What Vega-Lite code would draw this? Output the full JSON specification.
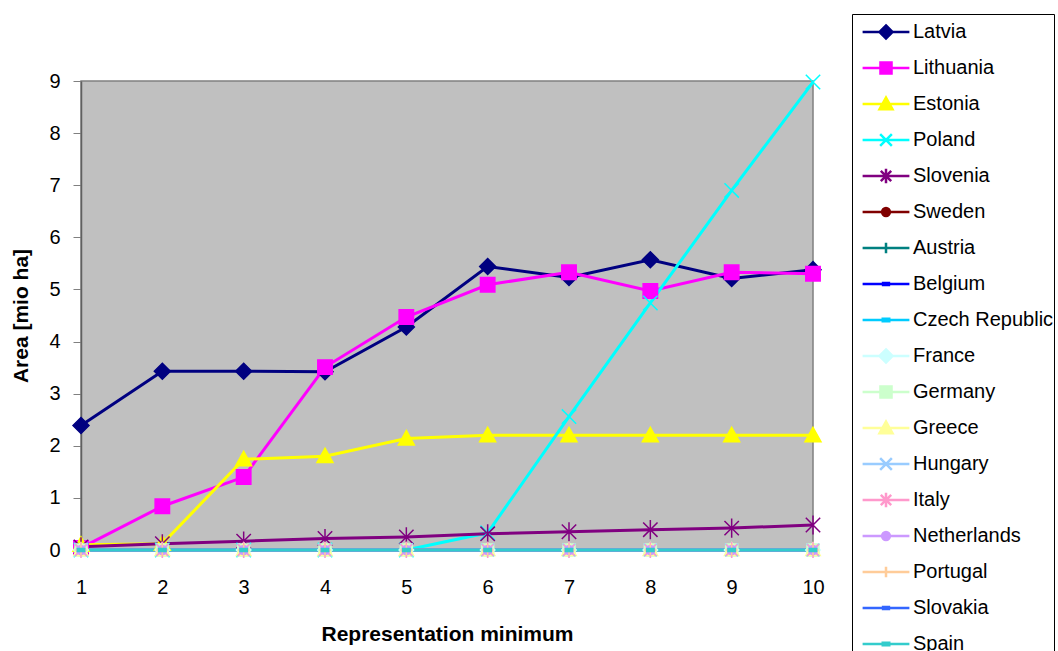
{
  "$schema": "https://vega.github.io/schema/vega-lite/v6.json",
  "width": 732,
  "height": 469,
  "autosize": {"type": "none"},
  "padding": {"left": 81, "top": 81, "right": 245, "bottom": 101},
  "background": "white",
  "config": {
    "font": "Liberation Sans",
    "view": {"fill": "#C0C0C0", "stroke": "#808080", "strokeWidth": 1.5},
    "axis": {"grid": false, "labelColor": "black", "titleColor": "black", "labelFont": "Liberation Sans", "titleFont": "Liberation Sans"},
    "legend": {
      "orient": "none",
      "legendX": 771,
      "legendY": -67,
      "padding": 0,
      "strokeColor": "black",
      "fillColor": "white",
      "clipHeight": 36,
      "rowPadding": 0,
      "symbolOffset": 24,
      "labelOffset": 17,
      "labelFontSize": 20,
      "labelFont": "Liberation Sans",
      "labelColor": "black",
      "labelLimit": 400,
      "symbolSize": 169,
      "symbolStrokeWidth": 2.5,
      "symbolOpacity": 1,
      "title": null
    }
  },
  "data": {
    "values": [
      {"country": "Latvia", "x": 1, "area": 2.39}, {"country": "Latvia", "x": 2, "area": 3.43}, {"country": "Latvia", "x": 3, "area": 3.43}, {"country": "Latvia", "x": 4, "area": 3.42}, {"country": "Latvia", "x": 5, "area": 4.28}, {"country": "Latvia", "x": 6, "area": 5.44}, {"country": "Latvia", "x": 7, "area": 5.23}, {"country": "Latvia", "x": 8, "area": 5.57}, {"country": "Latvia", "x": 9, "area": 5.21}, {"country": "Latvia", "x": 10, "area": 5.38},
      {"country": "Lithuania", "x": 1, "area": 0.04}, {"country": "Lithuania", "x": 2, "area": 0.84}, {"country": "Lithuania", "x": 3, "area": 1.4}, {"country": "Lithuania", "x": 4, "area": 3.51}, {"country": "Lithuania", "x": 5, "area": 4.47}, {"country": "Lithuania", "x": 6, "area": 5.09}, {"country": "Lithuania", "x": 7, "area": 5.33}, {"country": "Lithuania", "x": 8, "area": 4.97}, {"country": "Lithuania", "x": 9, "area": 5.33}, {"country": "Lithuania", "x": 10, "area": 5.3},
      {"country": "Estonia", "x": 1, "area": 0.1}, {"country": "Estonia", "x": 2, "area": 0.12}, {"country": "Estonia", "x": 3, "area": 1.74}, {"country": "Estonia", "x": 4, "area": 1.8}, {"country": "Estonia", "x": 5, "area": 2.14}, {"country": "Estonia", "x": 6, "area": 2.2}, {"country": "Estonia", "x": 7, "area": 2.2}, {"country": "Estonia", "x": 8, "area": 2.2}, {"country": "Estonia", "x": 9, "area": 2.2}, {"country": "Estonia", "x": 10, "area": 2.2},
      {"country": "Poland", "x": 1, "area": 0}, {"country": "Poland", "x": 2, "area": 0}, {"country": "Poland", "x": 3, "area": 0}, {"country": "Poland", "x": 4, "area": 0}, {"country": "Poland", "x": 5, "area": 0}, {"country": "Poland", "x": 6, "area": 0.33}, {"country": "Poland", "x": 7, "area": 2.56}, {"country": "Poland", "x": 8, "area": 4.74}, {"country": "Poland", "x": 9, "area": 6.9}, {"country": "Poland", "x": 10, "area": 8.98},
      {"country": "Slovenia", "x": 1, "area": 0.06}, {"country": "Slovenia", "x": 2, "area": 0.12}, {"country": "Slovenia", "x": 3, "area": 0.17}, {"country": "Slovenia", "x": 4, "area": 0.22}, {"country": "Slovenia", "x": 5, "area": 0.25}, {"country": "Slovenia", "x": 6, "area": 0.31}, {"country": "Slovenia", "x": 7, "area": 0.35}, {"country": "Slovenia", "x": 8, "area": 0.39}, {"country": "Slovenia", "x": 9, "area": 0.42}, {"country": "Slovenia", "x": 10, "area": 0.48},
      {"country": "Sweden", "x": 1, "area": 0}, {"country": "Sweden", "x": 2, "area": 0}, {"country": "Sweden", "x": 3, "area": 0}, {"country": "Sweden", "x": 4, "area": 0}, {"country": "Sweden", "x": 5, "area": 0}, {"country": "Sweden", "x": 6, "area": 0}, {"country": "Sweden", "x": 7, "area": 0}, {"country": "Sweden", "x": 8, "area": 0}, {"country": "Sweden", "x": 9, "area": 0}, {"country": "Sweden", "x": 10, "area": 0},
      {"country": "Austria", "x": 1, "area": 0}, {"country": "Austria", "x": 2, "area": 0}, {"country": "Austria", "x": 3, "area": 0}, {"country": "Austria", "x": 4, "area": 0}, {"country": "Austria", "x": 5, "area": 0}, {"country": "Austria", "x": 6, "area": 0}, {"country": "Austria", "x": 7, "area": 0}, {"country": "Austria", "x": 8, "area": 0}, {"country": "Austria", "x": 9, "area": 0}, {"country": "Austria", "x": 10, "area": 0},
      {"country": "Belgium", "x": 1, "area": 0}, {"country": "Belgium", "x": 2, "area": 0}, {"country": "Belgium", "x": 3, "area": 0}, {"country": "Belgium", "x": 4, "area": 0}, {"country": "Belgium", "x": 5, "area": 0}, {"country": "Belgium", "x": 6, "area": 0}, {"country": "Belgium", "x": 7, "area": 0}, {"country": "Belgium", "x": 8, "area": 0}, {"country": "Belgium", "x": 9, "area": 0}, {"country": "Belgium", "x": 10, "area": 0},
      {"country": "Czech Republic", "x": 1, "area": 0}, {"country": "Czech Republic", "x": 2, "area": 0}, {"country": "Czech Republic", "x": 3, "area": 0}, {"country": "Czech Republic", "x": 4, "area": 0}, {"country": "Czech Republic", "x": 5, "area": 0}, {"country": "Czech Republic", "x": 6, "area": 0}, {"country": "Czech Republic", "x": 7, "area": 0}, {"country": "Czech Republic", "x": 8, "area": 0}, {"country": "Czech Republic", "x": 9, "area": 0}, {"country": "Czech Republic", "x": 10, "area": 0},
      {"country": "France", "x": 1, "area": 0}, {"country": "France", "x": 2, "area": 0}, {"country": "France", "x": 3, "area": 0}, {"country": "France", "x": 4, "area": 0}, {"country": "France", "x": 5, "area": 0}, {"country": "France", "x": 6, "area": 0}, {"country": "France", "x": 7, "area": 0}, {"country": "France", "x": 8, "area": 0}, {"country": "France", "x": 9, "area": 0}, {"country": "France", "x": 10, "area": 0},
      {"country": "Germany", "x": 1, "area": 0}, {"country": "Germany", "x": 2, "area": 0}, {"country": "Germany", "x": 3, "area": 0}, {"country": "Germany", "x": 4, "area": 0}, {"country": "Germany", "x": 5, "area": 0}, {"country": "Germany", "x": 6, "area": 0}, {"country": "Germany", "x": 7, "area": 0}, {"country": "Germany", "x": 8, "area": 0}, {"country": "Germany", "x": 9, "area": 0}, {"country": "Germany", "x": 10, "area": 0},
      {"country": "Greece", "x": 1, "area": 0}, {"country": "Greece", "x": 2, "area": 0}, {"country": "Greece", "x": 3, "area": 0}, {"country": "Greece", "x": 4, "area": 0}, {"country": "Greece", "x": 5, "area": 0}, {"country": "Greece", "x": 6, "area": 0}, {"country": "Greece", "x": 7, "area": 0}, {"country": "Greece", "x": 8, "area": 0}, {"country": "Greece", "x": 9, "area": 0}, {"country": "Greece", "x": 10, "area": 0},
      {"country": "Hungary", "x": 1, "area": 0}, {"country": "Hungary", "x": 2, "area": 0}, {"country": "Hungary", "x": 3, "area": 0}, {"country": "Hungary", "x": 4, "area": 0}, {"country": "Hungary", "x": 5, "area": 0}, {"country": "Hungary", "x": 6, "area": 0}, {"country": "Hungary", "x": 7, "area": 0}, {"country": "Hungary", "x": 8, "area": 0}, {"country": "Hungary", "x": 9, "area": 0}, {"country": "Hungary", "x": 10, "area": 0},
      {"country": "Italy", "x": 1, "area": 0}, {"country": "Italy", "x": 2, "area": 0}, {"country": "Italy", "x": 3, "area": 0}, {"country": "Italy", "x": 4, "area": 0}, {"country": "Italy", "x": 5, "area": 0}, {"country": "Italy", "x": 6, "area": 0}, {"country": "Italy", "x": 7, "area": 0}, {"country": "Italy", "x": 8, "area": 0}, {"country": "Italy", "x": 9, "area": 0}, {"country": "Italy", "x": 10, "area": 0},
      {"country": "Netherlands", "x": 1, "area": 0}, {"country": "Netherlands", "x": 2, "area": 0}, {"country": "Netherlands", "x": 3, "area": 0}, {"country": "Netherlands", "x": 4, "area": 0}, {"country": "Netherlands", "x": 5, "area": 0}, {"country": "Netherlands", "x": 6, "area": 0}, {"country": "Netherlands", "x": 7, "area": 0}, {"country": "Netherlands", "x": 8, "area": 0}, {"country": "Netherlands", "x": 9, "area": 0}, {"country": "Netherlands", "x": 10, "area": 0},
      {"country": "Portugal", "x": 1, "area": 0}, {"country": "Portugal", "x": 2, "area": 0}, {"country": "Portugal", "x": 3, "area": 0}, {"country": "Portugal", "x": 4, "area": 0}, {"country": "Portugal", "x": 5, "area": 0}, {"country": "Portugal", "x": 6, "area": 0}, {"country": "Portugal", "x": 7, "area": 0}, {"country": "Portugal", "x": 8, "area": 0}, {"country": "Portugal", "x": 9, "area": 0}, {"country": "Portugal", "x": 10, "area": 0},
      {"country": "Slovakia", "x": 1, "area": 0}, {"country": "Slovakia", "x": 2, "area": 0}, {"country": "Slovakia", "x": 3, "area": 0}, {"country": "Slovakia", "x": 4, "area": 0}, {"country": "Slovakia", "x": 5, "area": 0}, {"country": "Slovakia", "x": 6, "area": 0}, {"country": "Slovakia", "x": 7, "area": 0}, {"country": "Slovakia", "x": 8, "area": 0}, {"country": "Slovakia", "x": 9, "area": 0}, {"country": "Slovakia", "x": 10, "area": 0},
      {"country": "Spain", "x": 1, "area": 0}, {"country": "Spain", "x": 2, "area": 0}, {"country": "Spain", "x": 3, "area": 0}, {"country": "Spain", "x": 4, "area": 0}, {"country": "Spain", "x": 5, "area": 0}, {"country": "Spain", "x": 6, "area": 0}, {"country": "Spain", "x": 7, "area": 0}, {"country": "Spain", "x": 8, "area": 0}, {"country": "Spain", "x": 9, "area": 0}, {"country": "Spain", "x": 10, "area": 0}
    ]
  },
  "encoding": {
    "x": {
      "field": "x", "type": "quantitative",
      "scale": {"domain": [1, 10], "nice": false, "zero": false},
      "axis": {"title": "Representation minimum", "values": [1, 2, 3, 4, 5, 6, 7, 8, 9, 10], "format": "d", "labelFontSize": 20, "labelPadding": 22, "tickSize": 5, "tickColor": "#404040", "domainColor": "#808080", "titleFontSize": 21, "titleFontWeight": "bold", "titlePadding": 26, "labelFlush": false}
    },
    "y": {
      "field": "area", "type": "quantitative",
      "scale": {"domain": [0, 9], "nice": false},
      "axis": {"title": "Area [mio ha]", "values": [0, 1, 2, 3, 4, 5, 6, 7, 8, 9], "labelFontSize": 20, "labelPadding": 13, "tickSize": 8, "tickColor": "#808080", "domainColor": "#606060", "domainWidth": 1.5, "titleFontSize": 21, "titleFontWeight": "bold", "titlePadding": 17, "labelFlush": false}
    }
  },
  "layer": [
    {
      "mark": {"type": "line"},
      "encoding": {
        "color": {
          "field": "country", "type": "nominal", "legend": null,
          "scale": {
            "domain": ["Latvia", "Lithuania", "Estonia", "Poland", "Slovenia", "Sweden", "Austria", "Belgium", "Czech Republic", "France", "Germany", "Greece", "Hungary", "Italy", "Netherlands", "Portugal", "Slovakia", "Spain"],
            "range": ["#000080", "#FF00FF", "#FFFF00", "#00FFFF", "#800080", "#800000", "#008080", "#0000FF", "#00CCFF", "#CCFFFF", "#CCFFCC", "#FFFF99", "#99CCFF", "#FF99CC", "#CC99FF", "#FFCC99", "#3366FF", "#33CCCC"]
          }
        },
        "strokeWidth": {
          "field": "country", "type": "ordinal", "legend": null,
          "scale": {
            "domain": ["Latvia", "Lithuania", "Estonia", "Poland", "Slovenia", "Sweden", "Austria", "Belgium", "Czech Republic", "France", "Germany", "Greece", "Hungary", "Italy", "Netherlands", "Portugal", "Slovakia", "Spain"],
            "range": [3, 3, 3, 3, 3, 2, 2, 2, 2, 2, 2, 2, 2, 2, 2, 2, 2, 2]
          }
        }
      }
    },
    {
      "mark": {"type": "point", "size": 256, "strokeWidth": 1.5, "opacity": 1},
      "encoding": {
        "fill": {
          "field": "country", "type": "nominal", "legend": null,
          "scale": {
            "domain": ["Latvia", "Lithuania", "Estonia", "Poland", "Slovenia", "Sweden", "Austria", "Belgium", "Czech Republic", "France", "Germany", "Greece", "Hungary", "Italy", "Netherlands", "Portugal", "Slovakia", "Spain"],
            "range": ["#000080", "#FF00FF", "#FFFF00", "#00FFFF", "#800080", "#800000", "#008080", "#0000FF", "#00CCFF", "#CCFFFF", "#CCFFCC", "#FFFF99", "#99CCFF", "#FF99CC", "#CC99FF", "#FFCC99", "#3366FF", "#33CCCC"]
          }
        },
        "stroke": {
          "field": "country", "type": "nominal", "legend": null,
          "scale": {
            "domain": ["Latvia", "Lithuania", "Estonia", "Poland", "Slovenia", "Sweden", "Austria", "Belgium", "Czech Republic", "France", "Germany", "Greece", "Hungary", "Italy", "Netherlands", "Portugal", "Slovakia", "Spain"],
            "range": ["#000080", "#FF00FF", "#FFFF00", "#00FFFF", "#800080", "#800000", "#008080", "#0000FF", "#00CCFF", "#CCFFFF", "#CCFFCC", "#FFFF99", "#99CCFF", "#FF99CC", "#CC99FF", "#FFCC99", "#3366FF", "#33CCCC"]
          }
        },
        "shape": {
          "field": "country", "type": "nominal", "legend": null,
          "scale": {
            "domain": ["Latvia", "Lithuania", "Estonia", "Poland", "Slovenia", "Sweden", "Austria", "Belgium", "Czech Republic", "France", "Germany", "Greece", "Hungary", "Italy", "Netherlands", "Portugal", "Slovakia", "Spain"],
            "range": [
              "M0,-1L1,0L0,1L-1,0Z",
              "M-0.9,-0.9H0.9V0.9H-0.9Z",
              "M0,-1L1,0.8H-1Z",
              "M-0.9,-0.9L0.9,0.9M0.9,-0.9L-0.9,0.9",
              "M-0.9,-0.9L0.9,0.9M0.9,-0.9L-0.9,0.9M0,-1.2V1.2",
              "M-0.45,0A0.45,0.45 0 1,0 0.45,0A0.45,0.45 0 1,0 -0.45,0Z",
              "M-0.7,0H0.7M0,-0.7V0.7",
              "M-0.4,-0.12H0.4V0.12H-0.4Z",
              "M-0.45,-0.18H0.45V0.18H-0.45Z",
              "M0,-0.9L0.9,0L0,0.9L-0.9,0Z",
              "M-0.75,-0.75H0.75V0.75H-0.75Z",
              "M0,-0.9L0.9,0.7H-0.9Z",
              "M-0.8,-0.8L0.8,0.8M0.8,-0.8L-0.8,0.8",
              "M-0.7,-0.7L0.7,0.7M0.7,-0.7L-0.7,0.7M0,-1V1",
              "M-0.55,0A0.55,0.55 0 1,0 0.55,0A0.55,0.55 0 1,0 -0.55,0Z",
              "M-0.7,0H0.7M0,-0.7V0.7",
              "M-0.4,-0.12H0.4V0.12H-0.4Z",
              "M-0.45,-0.18H0.45V0.18H-0.45Z"
            ]
          }
        }
      }
    },
    {
      "mark": {"type": "point", "size": 169, "strokeWidth": 2.5, "opacity": 0},
      "encoding": {
        "fill": {
          "field": "country", "type": "nominal", "legend": {},
          "scale": {
            "domain": ["Latvia", "Lithuania", "Estonia", "Poland", "Slovenia", "Sweden", "Austria", "Belgium", "Czech Republic", "France", "Germany", "Greece", "Hungary", "Italy", "Netherlands", "Portugal", "Slovakia", "Spain"],
            "range": ["#000080", "#FF00FF", "#FFFF00", "#00FFFF", "#800080", "#800000", "#008080", "#0000FF", "#00CCFF", "#CCFFFF", "#CCFFCC", "#FFFF99", "#99CCFF", "#FF99CC", "#CC99FF", "#FFCC99", "#3366FF", "#33CCCC"]
          }
        },
        "stroke": {
          "field": "country", "type": "nominal", "legend": {},
          "scale": {
            "domain": ["Latvia", "Lithuania", "Estonia", "Poland", "Slovenia", "Sweden", "Austria", "Belgium", "Czech Republic", "France", "Germany", "Greece", "Hungary", "Italy", "Netherlands", "Portugal", "Slovakia", "Spain"],
            "range": ["#000080", "#FF00FF", "#FFFF00", "#00FFFF", "#800080", "#800000", "#008080", "#0000FF", "#00CCFF", "#CCFFFF", "#CCFFCC", "#FFFF99", "#99CCFF", "#FF99CC", "#CC99FF", "#FFCC99", "#3366FF", "#33CCCC"]
          }
        },
        "shape": {
          "field": "country", "type": "nominal", "legend": {},
          "scale": {
            "domain": ["Latvia", "Lithuania", "Estonia", "Poland", "Slovenia", "Sweden", "Austria", "Belgium", "Czech Republic", "France", "Germany", "Greece", "Hungary", "Italy", "Netherlands", "Portugal", "Slovakia", "Spain"],
            "range": [
              "M-3.6,0H3.6M0,-1L1,0L0,1L-1,0Z",
              "M-3.6,0H3.6M-0.85,-0.85H0.85V0.85H-0.85Z",
              "M-3.6,0H3.6M0,-1L1,0.8H-1Z",
              "M-3.6,0H3.6M-0.9,-0.9L0.9,0.9M0.9,-0.9L-0.9,0.9",
              "M-3.6,0H3.6M-0.8,-0.8L0.8,0.8M0.8,-0.8L-0.8,0.8M0,-1.1V1.1",
              "M-3.6,0H3.6M-0.6,0A0.6,0.6 0 1,0 0.6,0A0.6,0.6 0 1,0 -0.6,0Z",
              "M-3.6,0H3.6M0,-0.8V0.8",
              "M-3.6,0H3.6M-0.45,-0.15H0.45V0.15H-0.45Z",
              "M-3.6,0H3.6M-0.5,-0.2H0.5V0.2H-0.5Z",
              "M-3.6,0H3.6M0,-1L1,0L0,1L-1,0Z",
              "M-3.6,0H3.6M-0.85,-0.85H0.85V0.85H-0.85Z",
              "M-3.6,0H3.6M0,-1L1,0.8H-1Z",
              "M-3.6,0H3.6M-0.9,-0.9L0.9,0.9M0.9,-0.9L-0.9,0.9",
              "M-3.6,0H3.6M-0.8,-0.8L0.8,0.8M0.8,-0.8L-0.8,0.8M0,-1.1V1.1",
              "M-3.6,0H3.6M-0.6,0A0.6,0.6 0 1,0 0.6,0A0.6,0.6 0 1,0 -0.6,0Z",
              "M-3.6,0H3.6M0,-0.8V0.8",
              "M-3.6,0H3.6M-0.45,-0.15H0.45V0.15H-0.45Z",
              "M-3.6,0H3.6M-0.5,-0.2H0.5V0.2H-0.5Z"
            ]
          }
        }
      }
    }
  ],
  "resolve": {"scale": {"fill": "independent", "stroke": "independent", "shape": "independent"}}
}
